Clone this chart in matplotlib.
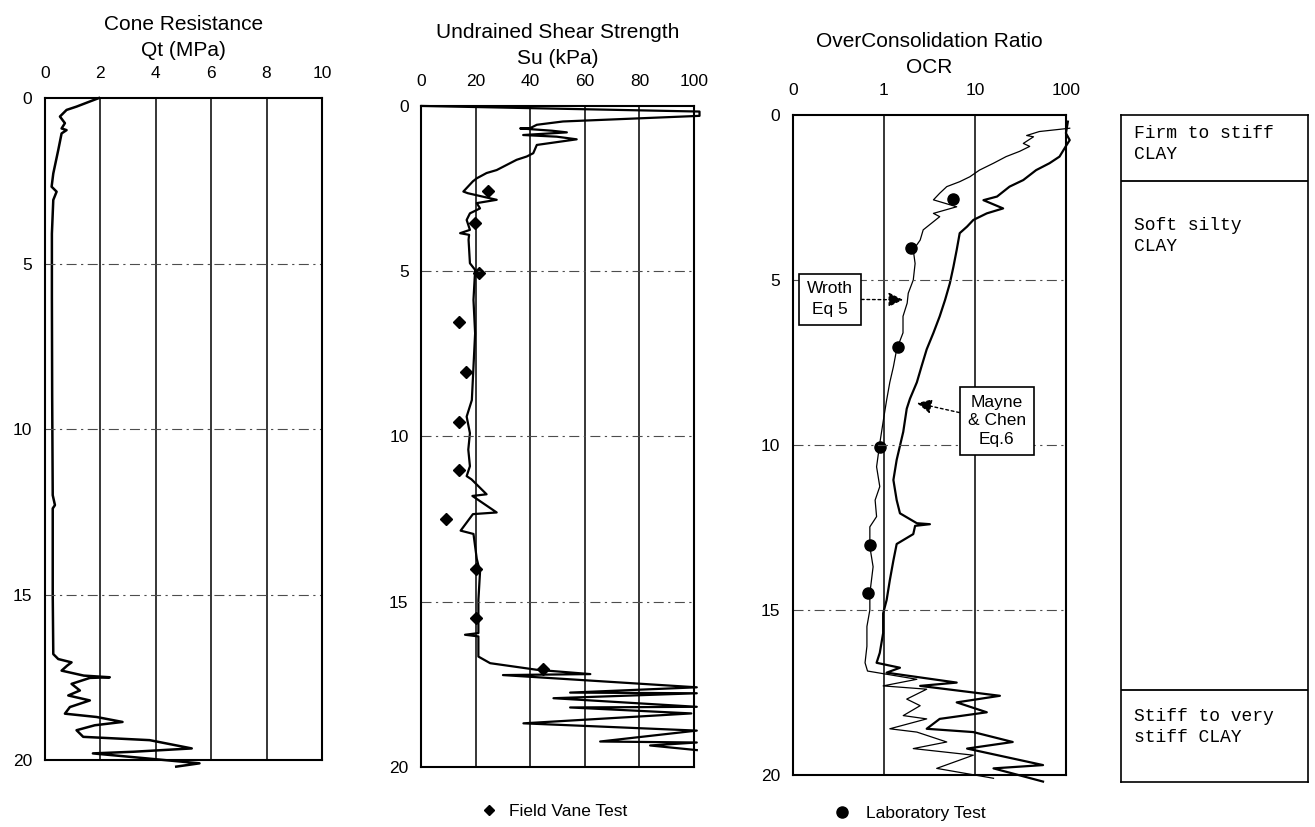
import numpy as np
import matplotlib.pyplot as plt

plt.rcParams['font.family'] = ['Liberation Sans', 'DejaVu Sans']

# cone resistance profile
qt_depth = [0.00, 0.26, 0.36, 0.56, 0.76, 0.92, 0.97, 1.07, 1.57, 2.28, 2.68, 2.83, 3.08, 4.10,
            6.00, 9.00, 12.0, 12.3, 12.4, 15.0, 16.8, 16.95, 17.05, 17.15, 17.30, 17.45, 17.50,
            17.52, 17.70, 17.90, 18.05, 18.20, 18.40, 18.60, 18.70, 18.85, 18.95, 19.10, 19.30,
            19.40, 19.65, 19.75, 19.80, 19.95, 20.10, 20.20]
qt_val = [1.95, 1.14, 0.78, 0.54, 0.72, 0.60, 0.78, 0.60, 0.48, 0.30, 0.24, 0.42, 0.30, 0.25,
          0.25, 0.26, 0.28, 0.36, 0.28, 0.28, 0.30, 0.48, 0.96, 0.80, 0.60, 1.40, 2.34,
          1.62, 0.96, 1.26, 0.84, 1.62, 0.90, 0.72, 1.86, 2.80, 1.80, 1.14, 1.38,
          3.78, 5.30, 3.20, 1.73, 3.66, 5.58, 4.74]

# undrained shear strength profile
su_depth = [0.00, 0.17, 0.30, 0.47, 0.57, 0.67, 0.68, 0.75, 0.80, 0.88, 0.93, 1.01, 1.18, 1.43,
            1.53, 1.63, 1.94, 2.03, 2.19, 2.28, 2.59, 2.64, 2.84, 2.94, 3.10, 3.25, 3.45, 3.75,
            3.85, 3.90, 4.05, 4.76, 4.96, 5.87, 6.88, 7.89, 8.90, 9.40, 9.90, 10.40, 10.90,
            11.20, 11.30, 11.75, 11.80, 12.30, 12.35, 12.85, 12.95, 13.70, 14.10, 14.95, 15.95,
            16.00, 16.05, 16.66, 16.86, 17.06, 17.19, 17.22, 17.59, 17.75, 17.77, 17.92, 18.18,
            18.20, 18.38, 18.68, 18.90, 19.23, 19.26, 19.35, 19.49]
su_val = [0.2, 102, 102, 52, 42.4, 40, 36.3, 48, 53.4, 37.4, 49.7, 57, 42.4, 41.1,
          38.7, 35, 27.7, 24, 20.4, 19, 15.5, 17.1, 27.7, 20.4, 21.6, 17.9, 16.7, 17.9,
          14.3, 17.6, 17.4, 17.9, 19.8, 19.2, 19.8, 19.2, 18.6, 16.7, 17.9, 17.3, 17.9,
          16.7, 18.5, 24.0, 18.8, 27.7, 19.0, 14.5, 19.2, 20.4, 21.6, 21.0, 21.0,
          16.1, 21.0, 21.0, 25.3, 42.4, 62, 30, 101, 54.6, 101, 48.5, 101,
          54.6, 99, 37.5, 101, 65.6, 101, 83.9, 101]

vane_depth = [2.56, 3.53, 5.06, 6.53, 8.04, 9.55, 11.03, 12.5, 14.0, 15.5, 17.05]
vane_su = [24.4, 19.8, 21.4, 13.9, 16.5, 13.9, 13.9, 9.2, 20.1, 20.1, 44.6]

# OCR profiles
wroth_depth = [0.40, 0.50, 0.62, 0.66, 0.86, 0.95, 1.10, 1.26, 1.46, 1.67, 1.87, 2.02, 2.17,
               2.37, 2.57, 2.78, 2.98, 3.08, 3.48, 3.79, 4.09, 4.50, 5.00, 5.40, 5.70, 6.10,
               6.60, 7.10, 7.63, 8.10, 8.64, 9.14, 9.95, 10.66, 11.26, 11.67, 12.17, 12.48,
               13.08, 13.69, 14.50, 15.00, 15.50, 16.10, 16.60, 16.85, 17.10, 17.30, 17.40,
               17.70, 17.90, 18.20, 18.30, 18.60, 18.70, 19.00, 19.20, 19.40, 19.80, 20.10]
wroth_ocr = [110, 51, 37, 44, 34, 40, 31, 22, 16, 11.2, 8.8, 6.8, 4.9,
             4.1, 3.5, 6.3, 3.5, 4.1, 2.7, 2.5, 2.1, 2.2, 2.1, 1.85, 1.8, 1.62,
             1.62, 1.38, 1.27, 1.16, 1.07, 1.0, 0.90, 0.83, 0.90, 0.80, 0.83, 0.70,
             0.70, 0.76, 0.70, 0.70, 0.65, 0.65, 0.62, 0.66, 2.3, 0.98, 2.95,
             1.78, 2.5, 1.63, 2.95, 1.16, 2.3, 4.9, 2.1, 9.6, 3.8, 16]

mayne_depth = [0.20, 0.55, 0.76, 0.94, 1.26, 1.46, 1.67, 1.97, 2.17, 2.47, 2.58, 2.83, 2.98,
               3.18, 3.38, 3.58, 4.09, 4.60, 5.10, 5.60, 6.10, 6.60, 7.10, 7.60, 8.10, 8.60,
               8.90, 9.60, 10.45, 11.06, 11.67, 12.07, 12.37, 12.40, 12.45, 12.70, 13.00, 13.50,
               14.10, 14.70, 15.10, 15.70, 16.30, 16.60, 16.75, 16.90, 17.20, 17.30, 17.60,
               17.80, 18.10, 18.30, 18.60, 18.70, 19.00, 19.20, 19.70, 19.80, 20.20]
mayne_ocr = [105, 100, 110, 100, 85, 66, 47, 34, 24, 17.5, 12.4, 20.4, 13.5,
             9.6, 8.2, 6.8, 6.3, 5.8, 5.3, 4.7, 4.1, 3.5, 2.95, 2.6, 2.3, 1.93,
             1.78, 1.63, 1.38, 1.27, 1.38, 1.5, 2.3, 3.2, 2.2, 2.1, 1.38, 1.27,
             1.16, 1.07, 0.98, 0.98, 0.90, 0.83, 1.5, 1.07, 6.3, 2.5, 18.8,
             6.3, 13.5, 4.1, 2.95, 9.6, 26, 8.2, 56, 16, 56]

lab_depth = [2.55, 4.02, 7.04, 10.05, 13.03, 14.5]
lab_ocr = [5.7, 2.0, 1.41, 0.90, 0.70, 0.67]

# soil column
layer_tops = [0.0, 2.0, 17.4]
layer_names = ['Firm to stiff\nCLAY', 'Soft silty\nCLAY', 'Stiff to very\nstiff CLAY']
layer_text_depth = [0.3, 3.1, 17.95]

depth_ticks = [0, 5, 10, 15, 20]


def style(ax, xticks, xlabels, title):
    ax.set_ylim(20, 0)
    ax.xaxis.tick_top()
    ax.set_xticks(xticks)
    ax.set_xticklabels(xlabels, fontsize=12.5)
    ax.set_yticks(depth_ticks)
    ax.set_yticklabels([str(d) for d in depth_ticks], fontsize=12.5)
    ax.tick_params(axis='x', length=0, pad=12)
    ax.tick_params(axis='y', length=0, pad=9)
    ax.minorticks_off()
    for x in xticks:
        ax.axvline(x, color='k', lw=1.1)
    for d in depth_ticks[1:-1]:
        ax.axhline(d, color='0.3', lw=0.8, ls=(0, (9, 4, 2, 4)))
    for s in ax.spines.values():
        s.set_linewidth(1.5)
    ax.set_title(title, fontsize=15, pad=30, linespacing=1.5)


fig = plt.figure(figsize=(13.15, 8.27), dpi=100)

ax1 = fig.add_axes([0.0342, 0.081, 0.2106, 0.8005])
ax1.plot(qt_val, qt_depth, color='k', lw=1.8, clip_on=False)
ax1.set_xlim(0, 10)
style(ax1, [0, 2, 4, 6, 8, 10], ['0', '2', '4', '6', '8', '10'], 'Cone Resistance\nQt (MPa)')

ax2 = fig.add_axes([0.3202, 0.0726, 0.2076, 0.7993])
ax2.plot(su_val, su_depth, color='k', lw=1.6, clip_on=False)
ax2.plot(vane_su, vane_depth, 'D', color='k', ms=6.5, ls='none', label='Field Vane Test')
ax2.set_xlim(0, 100)
style(ax2, [0, 20, 40, 60, 80, 100], ['0', '20', '40', '60', '80', '100'],
      'Undrained Shear Strength\nSu (kPa)')
ax2.legend(loc='center', bbox_to_anchor=(0.47, -0.068), frameon=False, fontsize=12.5,
           handletextpad=0.2, markerscale=0.75)

ax3 = fig.add_axes([0.603, 0.0629, 0.2076, 0.798])
ax3.set_xscale('log')
ax3.plot(wroth_ocr, wroth_depth, color='k', lw=0.9, clip_on=False)
ax3.plot(mayne_ocr, mayne_depth, color='k', lw=1.6, clip_on=False)
ax3.plot(lab_ocr, lab_depth, 'o', color='k', ms=8, ls='none', label='Laboratory Test')
ax3.set_xlim(0.1, 100)
style(ax3, [0.1, 1, 10, 100], ['0', '1', '10', '100'], 'OverConsolidation Ratio\nOCR')
ax3.legend(loc='center', bbox_to_anchor=(0.41, -0.058), frameon=False, fontsize=12.5,
           handletextpad=0.4)

box = dict(boxstyle='square,pad=0.45', fc='white', ec='k', lw=1.2)
arrow = dict(arrowstyle='-|>', color='k', lw=1, ls=(0, (2, 2)), mutation_scale=22,
             shrinkA=0, shrinkB=0)
ax3.annotate('Wroth\nEq 5', xy=(1.62, 5.6), xytext=(0.255, 5.58), ha='center', va='center',
             fontsize=12.5, bbox=box, arrowprops=arrow, linespacing=1.45)
ax3.annotate('Mayne\n& Chen\nEq.6', xy=(2.31, 8.73), xytext=(17.4, 9.27), ha='center',
             va='center', fontsize=12.5, bbox=box, arrowprops=arrow, linespacing=1.3)

ax4 = fig.add_axes([0.8525, 0.0544, 0.1422, 0.8065])
ax4.set_xlim(0, 1)
ax4.set_ylim(20.2, 0)
ax4.set_xticks([])
ax4.set_yticks([])
for s in ax4.spines.values():
    s.set_linewidth(1.2)
for top, name, td in zip(layer_tops, layer_names, layer_text_depth):
    if top > 0:
        ax4.axhline(top, color='k', lw=1.3)
    ax4.text(0.07, td, name, family=['Liberation Mono', 'DejaVu Sans Mono'], fontsize=13,
             va='top', ha='left', linespacing=1.3)

fig.savefig('out.png', dpi=100)
